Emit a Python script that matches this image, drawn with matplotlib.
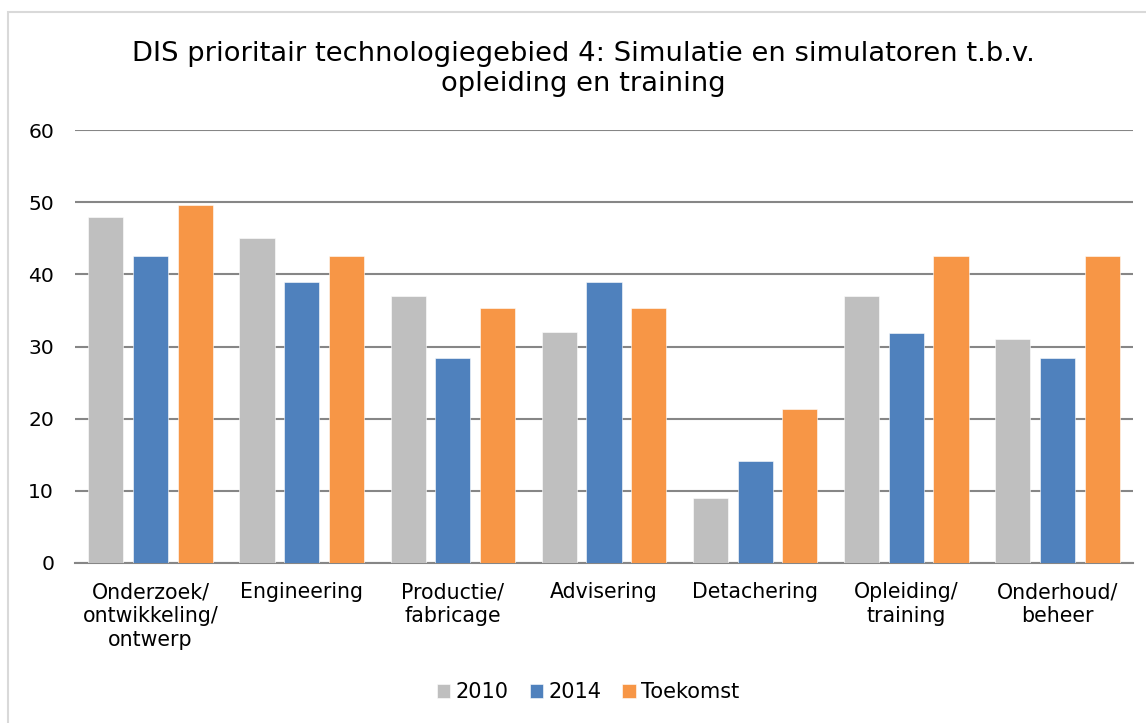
import matplotlib.pyplot as plt
import numpy as np
from matplotlib.patches import Rectangle

categories = ['Onderzoek/\nontwikkeling/\nontwerp', 'Engineering', 'Productie/\nfabricage',
              'Advisering', 'Detachering', 'Opleiding/\ntraining', 'Onderhoud/\nbeheer']
series = ['2010', '2014', 'Toekomst']
v2010 = [48, 45, 37, 32, 9, 37, 31]
v2014 = [42.5, 38.9, 28.4, 38.9, 14.2, 31.9, 28.4]
toekomst = [49.6, 42.5, 35.4, 35.4, 21.3, 42.5, 42.5]
colors = ['#BFBFBF', '#4F81BD', '#F79646']

title = 'DIS prioritair technologiegebied 4: Simulatie en simulatoren t.b.v.\nopleiding en training'

width = 0.232
step = 0.296

plt.rcParams['font.family'] = ['DejaVu Sans']

fig = plt.figure(figsize=(11.46, 7.23), dpi=100)
W, H = 1146, 723

# light frame round the chart area
fig.patches.append(Rectangle((8 / W, -0.05), 1.2, 1 - 12 / H + 0.05, transform=fig.transFigure,
                             fill=False, edgecolor='#D9D9D9', linewidth=1.5))

ax = fig.add_axes([75 / W, (H - 563) / H, (1133 - 75) / W, (563 - 130) / H])

x = np.arange(len(categories))
for i, (vals, name) in enumerate(zip([v2010, v2014, toekomst], series)):
    ax.bar(x + (i - 1) * step, vals, width=width, color=colors[i], label=name,
           edgecolor='white', linewidth=0.4, zorder=3)

ax.set_xlim(-0.5, len(categories) - 0.5)
ax.set_ylim(0, 60)
ax.set_yticks(range(0, 61, 10))
ax.set_xticks(x)
ax.set_xticklabels(categories, fontsize=14.8, linespacing=1.25)
ax.tick_params(axis='y', labelsize=14.6, length=0, pad=15)
ax.tick_params(axis='x', length=0, pad=14)
ax.grid(axis='y', color='#868686', linewidth=1.5, zorder=0)
for s in ['top', 'right', 'left']:
    ax.spines[s].set_visible(False)
ax.spines['bottom'].set_color('#868686')
ax.spines['bottom'].set_linewidth(1.5)

fig.text(583 / W, 1 - 69 / H, title, ha='center', va='center', fontsize=19.7, linespacing=1.22)

fig.legend(loc='center', bbox_to_anchor=(588 / W, 1 - 692 / H), ncol=3, frameon=False,
           fontsize=15, handlelength=0.65, handleheight=0.65, handletextpad=0.25,
           columnspacing=1.0)

fig.savefig('out.png', dpi=100)
